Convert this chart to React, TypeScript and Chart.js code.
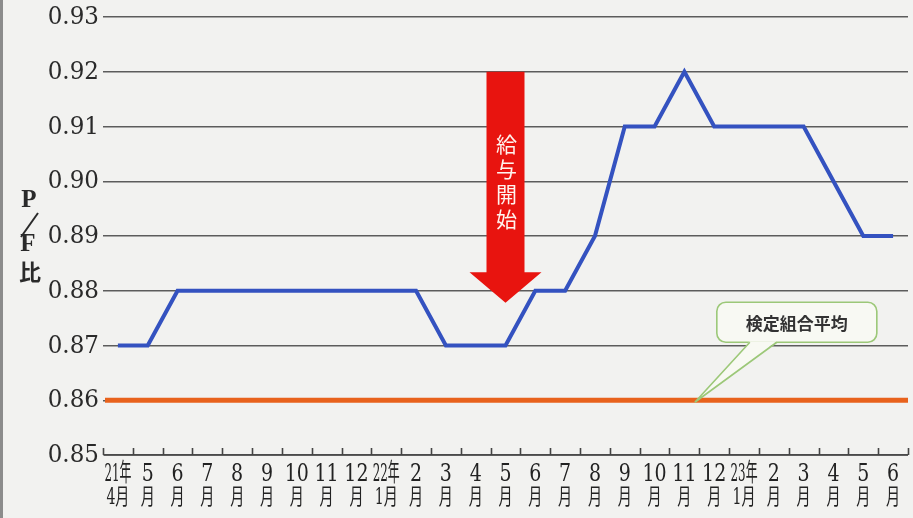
import React, { useEffect, useRef } from "react";
import { Chart, registerables } from "chart.js";

Chart.register(...registerables);

// Month labels: upper row (year / month number) and lower row (月)
const monthTop: string[] = [
  "21年", "5", "6", "7", "8", "9", "10", "11", "12",
  "22年", "2", "3", "4", "5", "6", "7", "8", "9", "10", "11", "12",
  "23年", "2", "3", "4", "5", "6",
];
const monthBottom: string[] = [
  "4月", "月", "月", "月", "月", "月", "月", "月", "月",
  "1月", "月", "月", "月", "月", "月", "月", "月", "月", "月", "月", "月",
  "1月", "月", "月", "月", "月", "月",
];

// P/F ratio per month
const pfRatio: number[] = [
  0.87, 0.87, 0.88, 0.88, 0.88, 0.88, 0.88, 0.88, 0.88,
  0.88, 0.88, 0.87, 0.87, 0.87, 0.88, 0.88, 0.89, 0.91, 0.91, 0.92, 0.91,
  0.91, 0.91, 0.91, 0.90, 0.89, 0.89,
];

// Cooperative average P/F ratio
const kumiaiAverage = 0.86;

// Y axis range
const yMin = 0.85;
const yMax = 0.93;
const yStep = 0.01;

// Feeding start marker (month index)
const feedStartIndex = 13;
const feedStartLabel = "給与開始";
const averageLabel = "検定組合平均";

const BG = "#f2f2f0";

const decorPlugin = {
  id: "decor",
  beforeDraw(chart: any) {
    const { ctx, width, height } = chart;
    ctx.save();
    ctx.fillStyle = BG;
    ctx.fillRect(0, 0, width, height);
    ctx.fillStyle = "#8c8c8c";
    ctx.fillRect(0, 0, 3, height);
    ctx.restore();
  },
  afterDraw(chart: any) {
    const { ctx, chartArea } = chart;
    const xs = chart.scales.x;
    const ys = chart.scales.y;
    ctx.save();

    // y tick labels
    ctx.fillStyle = "#2a2a2a";
    ctx.font = '24px "DejaVu Serif"';
    ctx.textAlign = "right";
    ctx.textBaseline = "middle";
    ys.ticks.forEach((t: any) => {
      const y = ys.getPixelForValue(t.value);
      ctx.save();
      ctx.translate(chartArea.left - 4, y + 1);
      ctx.scale(0.96, 1);
      ctx.fillText(t.value.toFixed(2), 0, 0);
      ctx.restore();
    });

    // bottom axis line with small upward ticks between months
    const step = xs.getPixelForValue(1) - xs.getPixelForValue(0);
    ctx.strokeStyle = "#444";
    ctx.lineWidth = 1.6;
    ctx.beginPath();
    ctx.moveTo(chartArea.left + 1, chartArea.bottom);
    ctx.lineTo(chartArea.right, chartArea.bottom);
    for (let i = 0; i <= monthTop.length; i++) {
      const x = Math.round(xs.getPixelForValue(i) - step / 2) + 0.5;
      ctx.moveTo(x, chartArea.bottom);
      ctx.lineTo(x, chartArea.bottom - 7);
    }
    ctx.stroke();

    // x labels, condensed as in print
    ctx.fillStyle = "#222";
    ctx.textAlign = "center";
    ctx.textBaseline = "middle";
    const drawCondensed = (text: string, x: number, y: number, maxScale: number, maxW: number) => {
      const w = ctx.measureText(text).width;
      const s = Math.min(maxScale, maxW / w);
      ctx.save();
      ctx.translate(x, y);
      ctx.scale(s, 1);
      ctx.fillText(text, 0, 0);
      ctx.restore();
    };
    monthTop.forEach((lab, i) => {
      const x = xs.getPixelForValue(i);
      ctx.font = '25px "DejaVu Serif", "Noto Sans CJK JP"';
      drawCondensed(lab, x, chartArea.bottom + 19, 0.76, 27);
      ctx.font = '22px "DejaVu Serif", "Noto Sans CJK JP"';
      drawCondensed(monthBottom[i], x, chartArea.bottom + 43, 0.64, 26);
    });

    // y axis title P/F比
    ctx.fillStyle = "#2a2a2a";
    ctx.font = 'bold 25px "Liberation Serif"';
    ctx.textAlign = "center";
    ctx.textBaseline = "middle";
    ctx.fillText("P", 29, 201);
    ctx.fillText("F", 28, 245);
    ctx.strokeStyle = "#2a2a2a";
    ctx.lineWidth = 2;
    ctx.beginPath();
    ctx.moveTo(38, 213);
    ctx.lineTo(21, 237);
    ctx.stroke();
    ctx.font = 'bold 22px "Noto Sans CJK JP"';
    ctx.fillText("比", 30, 272);

    ctx.restore();
  },
  afterDatasetsDraw(chart: any) {
    const { ctx, chartArea } = chart;
    const xs = chart.scales.x;
    const ys = chart.scales.y;
    ctx.save();

    // cooperative average line
    const ya = ys.getPixelForValue(kumiaiAverage);
    ctx.strokeStyle = "#e8621c";
    ctx.lineWidth = 5;
    ctx.beginPath();
    ctx.moveTo(chartArea.left + 2, ya);
    ctx.lineTo(chartArea.right, ya);
    ctx.stroke();

    // feeding start arrow
    const ax = xs.getPixelForValue(feedStartIndex);
    const top = ys.getPixelForValue(0.92);
    const shaftBottom = ys.getPixelForValue(0.8834);
    const tip = ys.getPixelForValue(0.8778);
    ctx.fillStyle = "#e8140f";
    ctx.beginPath();
    ctx.moveTo(ax - 19, top);
    ctx.lineTo(ax + 19, top);
    ctx.lineTo(ax + 19, shaftBottom);
    ctx.lineTo(ax + 36, shaftBottom);
    ctx.lineTo(ax, tip);
    ctx.lineTo(ax - 36, shaftBottom);
    ctx.lineTo(ax - 19, shaftBottom);
    ctx.closePath();
    ctx.fill();
    ctx.fillStyle = "#fff3ee";
    ctx.font = '21px "Noto Sans CJK JP"';
    ctx.textAlign = "center";
    ctx.textBaseline = "middle";
    Array.from(feedStartLabel).forEach((ch, k) => {
      ctx.fillText(ch, ax + 1, top + 72 + k * 25);
    });

    // callout for the average line
    const px = xs.getPixelForValue(19.35);
    const py = ya + 2;
    const bx = px + 22;
    const by = py - 100;
    const bw = 160;
    const bh = 40;
    const b1 = px + 55;
    const b2 = px + 82;
    const fill = "#f8f9f3";
    const green = "#9cc878";
    ctx.lineWidth = 1.6;
    ctx.strokeStyle = green;
    ctx.fillStyle = fill;
    ctx.beginPath();
    ctx.roundRect(bx, by, bw, bh, 9);
    ctx.fill();
    ctx.stroke();
    ctx.beginPath();
    ctx.moveTo(b1, by + bh - 1);
    ctx.lineTo(px, py);
    ctx.lineTo(b2, by + bh - 1);
    ctx.closePath();
    ctx.fill();
    ctx.beginPath();
    ctx.moveTo(b1, by + bh);
    ctx.lineTo(px, py);
    ctx.lineTo(b2, by + bh);
    ctx.stroke();
    ctx.fillStyle = "#333";
    ctx.font = 'bold 17px "Noto Sans CJK JP"';
    ctx.fillText(averageLabel, bx + bw / 2, by + bh / 2 + 1);

    ctx.restore();
  },
};

export default function App() {
  const canvasRef = useRef<HTMLCanvasElement | null>(null);

  useEffect(() => {
    document.body.style.margin = "0";
    const canvas = canvasRef.current;
    if (!canvas) return;
    const chart = new Chart(canvas, {
      type: "line",
      data: {
        labels: monthTop.map((t, i) => t + monthBottom[i]),
        datasets: [
          {
            label: "P/F比",
            data: pfRatio,
            borderColor: "#3452c0",
            borderWidth: 4,
            pointRadius: 0,
            tension: 0,
            fill: false,
          },
        ],
      },
      options: {
        animation: false,
        responsive: false,
        devicePixelRatio: 1,
        layout: { padding: { left: 103, right: 5, top: 17, bottom: 63 } },
        plugins: { legend: { display: false }, tooltip: { enabled: false } },
        scales: {
          x: {
            type: "category",
            offset: true,
            grid: { display: false, drawTicks: false },
            ticks: { display: false },
            border: { display: false },
          },
          y: {
            min: yMin,
            max: yMax,
            ticks: { display: false, stepSize: yStep },
            grid: { color: "#5c5c5c", lineWidth: 1.5, drawTicks: false },
            border: { display: false },
          },
        },
      },
      plugins: [decorPlugin],
    });
    return () => chart.destroy();
  }, []);

  return (
    <div style={{ position: "fixed", left: 0, top: 0, width: 913, height: 518 }}>
      <canvas ref={canvasRef} width={913} height={518} />
    </div>
  );
}
